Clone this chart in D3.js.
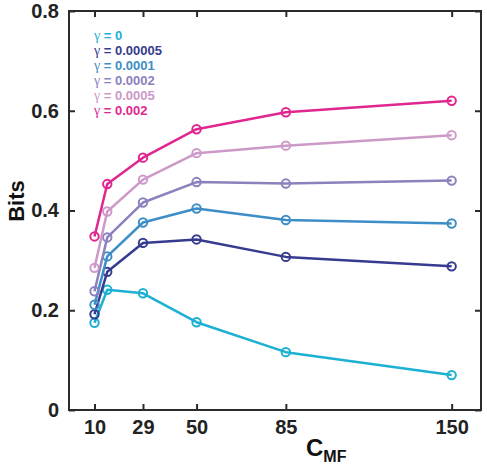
<!DOCTYPE html>
<html>
<head>
<meta charset="utf-8">
<script src="https://cdn.jsdelivr.net/npm/d3@7"></script>
<style>
html,body{margin:0;padding:0;background:#fff;}
svg{display:block;}
text{font-family:"Liberation Sans",Arial,Helvetica,sans-serif;font-weight:bold;}
</style>
</head>
<body>
<svg id="chart" width="487" height="469"></svg>
<script>
const cmf = [10, 15, 29, 50, 85, 150];
const xTicks = [10, 29, 50, 85, 150];
const yTicks = [0, 0.2, 0.4, 0.6, 0.8];
const gammaLabels = ["0", "0.00005", "0.0001", "0.0002", "0.0005", "0.002"];
const colors = ["#1cb0d2", "#363b8f", "#3d8ec6", "#8a81bd", "#cd99c9", "#e0268f"];
const bitsG0      = [0.175, 0.241, 0.234, 0.176, 0.116, 0.070];
const bitsG00005  = [0.192, 0.277, 0.335, 0.342, 0.307, 0.288];
const bitsG0001   = [0.211, 0.308, 0.376, 0.404, 0.381, 0.374];
const bitsG0002   = [0.238, 0.346, 0.416, 0.457, 0.454, 0.460];
const bitsG0005   = [0.285, 0.398, 0.462, 0.515, 0.530, 0.551];
const bitsG002    = [0.348, 0.453, 0.506, 0.563, 0.597, 0.620];
const series = [bitsG0, bitsG00005, bitsG0001, bitsG0002, bitsG0005, bitsG002];

const L = 69, R = 481, T = 11, B = 410;
const svg = d3.select("#chart");
const x = d3.scaleLinear().domain([0, 161.5]).range([L, R]);
const y = d3.scaleLinear().domain([0, 0.8]).range([B, T]);

const axisColor = "#2b2b2b";
svg.append("rect").attr("x", L).attr("y", T).attr("width", R - L).attr("height", B - T)
  .attr("fill", "none").attr("stroke", axisColor).attr("stroke-width", 2);

const tl = 6;
const gB = svg.append("g").attr("transform", `translate(0,${B})`)
  .call(d3.axisBottom(x).tickValues(xTicks).tickSizeInner(-tl).tickSizeOuter(0).tickPadding(10).tickFormat(d3.format("d")));
const gT = svg.append("g").attr("transform", `translate(0,${T})`)
  .call(d3.axisTop(x).tickValues(xTicks).tickSizeInner(-tl).tickSizeOuter(0).tickFormat(""));
const gL = svg.append("g").attr("transform", `translate(${L},0)`)
  .call(d3.axisLeft(y).tickValues(yTicks).tickSizeInner(-tl).tickSizeOuter(0).tickPadding(10).tickFormat(d => d === 0 ? "0" : d3.format(".1f")(d)));
const gR = svg.append("g").attr("transform", `translate(${R},0)`)
  .call(d3.axisRight(y).tickValues(yTicks).tickSizeInner(-tl).tickSizeOuter(0).tickFormat(""));
[gB, gT, gL, gR].forEach(g => {
  g.select(".domain").remove();
  g.selectAll(".tick line").attr("stroke", axisColor).attr("stroke-width", 2);
  g.selectAll(".tick text").attr("fill", "#222").style("font-size", "20px").style("font-weight", "bold")
    .style("font-family", "'Liberation Sans', Arial, sans-serif");
});

const line = d3.line().x((d, i) => x(cmf[i])).y(d => y(d));
series.forEach((s, k) => {
  svg.append("path").datum(s).attr("d", line).attr("fill", "none")
    .attr("stroke", colors[k]).attr("stroke-width", 2.5).attr("stroke-linejoin", "round");
  svg.append("g").selectAll("circle").data(s).join("circle")
    .attr("cx", (d, i) => x(cmf[i])).attr("cy", d => y(d)).attr("r", 4.2)
    .attr("fill", "none").attr("stroke", colors[k]).attr("stroke-width", 2);
});

// Legend as one text block
const leg = svg.append("text").attr("x", 94).attr("y", 40).style("font-size", "13px");
gammaLabels.forEach((g, k) => {
  leg.append("tspan").attr("x", 94).attr("dy", k === 0 ? 0 : 15).attr("fill", colors[k]).text("γ")
    .style("font-family", "'Liberation Serif', serif").style("font-weight", "normal").style("font-size", "14px");
  leg.append("tspan").attr("fill", colors[k]).text(" = " + g);
});

svg.append("text").attr("transform", `translate(24,201) rotate(-90)`)
  .attr("text-anchor", "middle").style("font-size", "22px").attr("fill", "#111").text("Bits");
const xt = svg.append("text").attr("x", 306).attr("y", 456).attr("fill", "#111").style("font-size", "24px");
xt.append("tspan").text("C");
xt.append("tspan").text("MF").attr("dy", 6).style("font-size", "16px");
</script>
</body>
</html>
